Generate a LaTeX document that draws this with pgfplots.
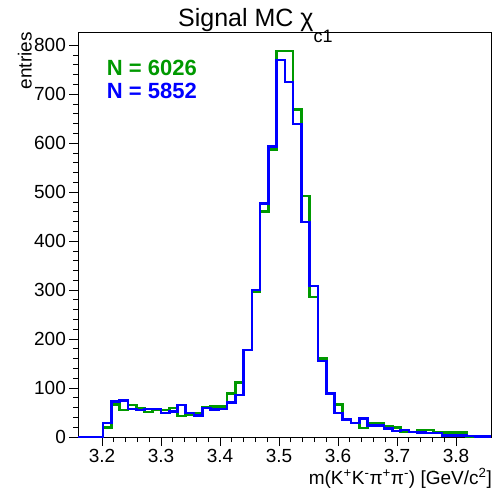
\documentclass[border=0pt]{standalone}
\usepackage{fontspec}
\setmainfont{Liberation Sans}
\usepackage{pgfplots}
\pgfplotsset{compat=1.18}
\definecolor{rgreen}{RGB}{0,153,0}
\definecolor{rblue}{RGB}{0,0,255}
\begin{document}
\begin{tikzpicture}
\path[use as bounding box] (0,0) rectangle (494pt,-491pt);
\begin{axis}[
  at={(78.4pt,-437pt)}, anchor=south west,
  scale only axis, width=413pt, height=405pt,
  xmin=3.16, xmax=3.86, ymin=0, ymax=827,
  xtick={3.2,3.3,3.4,3.5,3.6,3.7,3.8},
  ytick={0,100,200,300,400,500,600,700,800},
  minor x tick num=4, minor y tick num=4,
  tick pos=left, tick align=outside,
  major tick length=9pt, minor tick length=5pt,
  every tick/.style={black, line width=0.8pt},
  axis line style={line width=0.9pt},
  ticklabel style={font=\fontsize{19}{19}\selectfont},
  /pgf/number format/assume math mode=true,
  clip=false,
]
\addplot[const plot, rgreen, line width=2.6pt] coordinates {
(3.160,0) (3.174,0) (3.188,0) (3.202,20) (3.216,67) (3.230,55) (3.244,65) (3.258,59)
(3.272,51) (3.286,55) (3.300,55) (3.314,59) (3.328,43) (3.342,45) (3.356,49) (3.370,60)
(3.384,62) (3.398,62) (3.412,89) (3.426,111) (3.440,178) (3.454,297) (3.468,460) (3.482,587)
(3.496,788) (3.510,788) (3.524,669) (3.538,492) (3.552,286) (3.566,160) (3.580,89) (3.594,67)
(3.608,36) (3.622,29) (3.636,18) (3.650,27) (3.664,29) (3.678,21) (3.692,20) (3.706,10)
(3.720,10) (3.734,14) (3.748,14) (3.762,9) (3.776,9) (3.790,9) (3.804,9) (3.818,0)
(3.832,0) (3.846,0) (3.860,0)
};
\addplot[const plot, rblue, line width=2.6pt] coordinates {
(3.160,0) (3.174,0) (3.188,0) (3.202,29) (3.216,72) (3.230,74) (3.244,57) (3.258,55)
(3.272,57) (3.286,57) (3.300,49) (3.314,52) (3.328,65) (3.342,49) (3.356,44) (3.370,59)
(3.384,56) (3.398,57) (3.412,70) (3.426,86) (3.440,178) (3.454,300) (3.468,477) (3.482,593)
(3.496,770) (3.510,725) (3.524,639) (3.538,439) (3.552,308) (3.566,155) (3.580,89) (3.594,49)
(3.608,36) (3.622,29) (3.636,38) (3.650,24) (3.664,24) (3.678,17) (3.692,12) (3.706,14)
(3.720,10) (3.734,9) (3.748,8) (3.762,8) (3.776,3) (3.790,3) (3.804,3) (3.818,2)
(3.832,1) (3.846,1) (3.860,1)
};
\end{axis}
\node[anchor=base west, inner sep=0pt, font=\fontsize{25}{25}\selectfont] at (178pt,-26.7pt) {Signal MC χ\raisebox{-16pt}{\fontsize{18}{18}\selectfont c1}};
\node[anchor=base west, inner sep=0pt, text=rgreen, font=\fontsize{22}{22}\selectfont\bfseries] at (106.7pt,-75pt) {N = 6026};
\node[anchor=base west, inner sep=0pt, text=rblue, font=\fontsize{22}{22}\selectfont\bfseries] at (106.7pt,-98.3pt) {N = 5852};
\node[anchor=base east, inner sep=0pt, rotate=90, font=\fontsize{19}{19}\selectfont] at (31.7pt,-32pt) {entries};
\node[anchor=base east, inner sep=0pt, font=\fontsize{19}{19}\selectfont] at (492pt,-484pt) {m(K\textsuperscript{+}K\textsuperscript{-}π\textsuperscript{+}π\textsuperscript{-}) [GeV/c\textsuperscript{2}]};
\end{tikzpicture}
\end{document}
